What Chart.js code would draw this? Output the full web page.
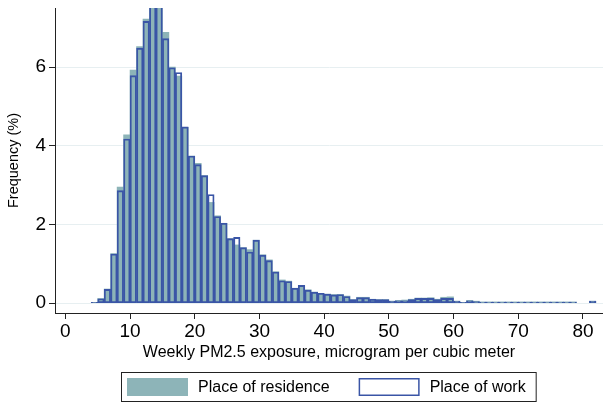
<!DOCTYPE html>
<html>
<head>
<meta charset="utf-8">
<script src="https://cdn.jsdelivr.net/npm/chart.js@4.4.1/dist/chart.umd.min.js"></script>
<style>
  html, body { margin: 0; padding: 0; background: #ffffff; }
  #wrap { width: 603px; height: 409px; }
</style>
</head>
<body>
<div id="wrap"><canvas id="chart" width="603" height="409"></canvas></div>
<script>
// Left edge of each 1-unit bin (µg/m³); bins 79 and 80 are empty
const BIN_LEFT = [
  4, 5, 6, 7, 8, 9, 10, 11, 12, 13, 14, 15, 16, 17, 18, 19, 20, 21, 22, 23,
  24, 25, 26, 27, 28, 29, 30, 31, 32, 33, 34, 35, 36, 37, 38, 39, 40, 41, 42, 43,
  44, 45, 46, 47, 48, 49, 50, 51, 52, 53, 54, 55, 56, 57, 58, 59, 60, 61, 62, 63,
  64, 65, 66, 67, 68, 69, 70, 71, 72, 73, 74, 75, 76, 77, 78, 81
];

// Frequency (%) of weekly exposure at place of residence
const RESIDENCE = [
  0.02, 0.12, 0.36, 1.26, 2.95, 4.28, 5.92, 6.52, 7.22, 7.95, 7.85, 6.88, 6.00, 5.77, 4.47, 3.74, 3.55, 3.24, 2.56, 2.22,
  2.03, 1.64, 1.48, 1.41, 1.36, 1.60, 1.23, 1.10, 0.80, 0.59, 0.56, 0.38, 0.45, 0.34, 0.28, 0.25, 0.23, 0.22, 0.22, 0.18,
  0.09, 0.15, 0.15, 0.10, 0.09, 0.09, 0.05, 0.07, 0.08, 0.10, 0.13, 0.13, 0.14, 0.10, 0.15, 0.16, 0.05, 0.02, 0.07, 0.05,
  0.03, 0.03, 0.03, 0.03, 0.03, 0.03, 0.03, 0.03, 0.03, 0.03, 0.03, 0.03, 0.03, 0.03, 0.03, 0.05
];

// Frequency (%) of weekly exposure at place of work
const WORK = [
  0.02, 0.11, 0.35, 1.25, 2.86, 4.17, 5.78, 6.48, 7.16, 7.90, 7.80, 6.72, 5.98, 5.86, 4.48, 3.74, 3.52, 3.24, 2.76, 2.20,
  2.03, 1.64, 1.67, 1.41, 1.30, 1.60, 1.22, 1.08, 0.79, 0.57, 0.55, 0.38, 0.45, 0.33, 0.28, 0.25, 0.23, 0.21, 0.22, 0.17,
  0.09, 0.14, 0.14, 0.10, 0.09, 0.09, 0.05, 0.06, 0.06, 0.09, 0.12, 0.12, 0.12, 0.09, 0.12, 0.12, 0.05, 0.02, 0.06, 0.04,
  0.03, 0.03, 0.03, 0.03, 0.03, 0.03, 0.03, 0.03, 0.03, 0.03, 0.03, 0.03, 0.03, 0.03, 0.03, 0.05
];

const X_TICKS = [0, 10, 20, 30, 40, 50, 60, 70, 80];
const Y_TICKS = [0, 2, 4, 6];

const SERIES_LABELS = ['Place of residence', 'Place of work'];
const X_TITLE = 'Weekly PM2.5 exposure, microgram per cubic meter';
const Y_TITLE = 'Frequency (%)';

const FONT = '"Liberation Sans", Arial, Helvetica, sans-serif';
const TEAL = '#8db4b8';
const BLUE = '#3a55a6';
const GRID = '#e7eff1';
const AXIS = '#222222';

// Boxed legend drawn under the axis title, centred on the plot area
const boxedLegend = {
  id: 'boxedLegend',
  afterDraw(chart) {
    const ctx = chart.ctx;
    const ca = chart.chartArea;
    const sets = chart.data.datasets;
    ctx.save();
    ctx.font = '16px ' + FONT;
    const sw = 61, sh = 18, gapText = 10, gapItem = 29, padL = 6, padR = 11;
    const t0 = ctx.measureText(sets[0].label).width;
    const t1 = ctx.measureText(sets[1].label).width;
    const total = padL + sw + gapText + t0 + gapItem + sw + gapText + t1 + padR;
    const left = Math.round((ca.left + ca.right) / 2 - total / 2);
    const top = 372, h = 30;
    const cy = top + h / 2;

    ctx.fillStyle = '#ffffff';
    ctx.fillRect(left, top, total, h);
    ctx.strokeStyle = AXIS;
    ctx.lineWidth = 1;
    ctx.strokeRect(left + 0.5, top + 0.5, total - 1, h - 1);

    let x = left + padL;
    ctx.fillStyle = sets[0].backgroundColor;
    ctx.fillRect(x, cy - sh / 2, sw, sh);
    x += sw + gapText;
    ctx.fillStyle = '#000000';
    ctx.textBaseline = 'middle';
    ctx.textAlign = 'left';
    ctx.fillText(sets[0].label, x, cy + 1);
    x += t0 + gapItem;

    ctx.fillStyle = '#ffffff';
    ctx.fillRect(x, cy - sh / 2, sw, sh);
    ctx.strokeStyle = sets[1].borderColor;
    ctx.lineWidth = 1.5;
    ctx.strokeRect(x + 0.75, cy - sh / 2 + 0.75, sw - 1.5, sh - 1.5);
    x += sw + gapText;
    ctx.fillStyle = '#000000';
    ctx.fillText(sets[1].label, x, cy + 1);
    ctx.restore();
  }
};

const toPoints = (vals) => BIN_LEFT.map((b, i) => ({ x: b + 0.5, y: vals[i] }));

new Chart(document.getElementById('chart'), {
  type: 'bar',
  data: {
    datasets: [
      {
        label: SERIES_LABELS[0],
        data: toPoints(RESIDENCE),
        backgroundColor: TEAL,
        borderColor: TEAL,
        borderWidth: 0,
        grouped: false,
        barPercentage: 1,
        categoryPercentage: 1,
        order: 2
      },
      {
        label: SERIES_LABELS[1],
        data: toPoints(WORK),
        backgroundColor: 'rgba(0,0,0,0)',
        borderColor: BLUE,
        borderWidth: 1.2,
        borderSkipped: false,
        grouped: false,
        barPercentage: 1,
        categoryPercentage: 1,
        order: 1
      }
    ]
  },
  options: {
    responsive: false,
    devicePixelRatio: 1,
    animation: false,
    layout: { padding: { top: 8, right: 0, bottom: 46, left: 0 } },
    plugins: {
      legend: { display: false },
      tooltip: { enabled: false },
      title: { display: false }
    },
    scales: {
      x: {
        type: 'linear',
        min: -1.6,
        max: 83.1,
        offset: false,
        afterBuildTicks: (s) => { s.ticks = X_TICKS.map(v => ({ value: v })); },
        afterFit: (s) => { s.height = 50; s.paddingLeft = 0; s.paddingRight = 0; },
        grid: { offset: false, drawOnChartArea: false, drawTicks: true, tickLength: 6, tickColor: AXIS },
        border: { display: true, color: AXIS, width: 1 },
        ticks: { color: '#000', font: { family: FONT, size: 19 }, padding: 1, maxRotation: 0, autoSkip: false },
        title: { display: true, text: X_TITLE, color: '#000', font: { family: FONT, size: 16 }, padding: { top: 0, bottom: 1 } }
      },
      y: {
        type: 'linear',
        min: -0.25,
        max: 7.5,
        afterBuildTicks: (s) => { s.ticks = Y_TICKS.map(v => ({ value: v })); },
        afterFit: (s) => { s.width = 55; s.paddingTop = 0; s.paddingBottom = 0; },
        grid: { color: GRID, lineWidth: 1, drawTicks: true, tickLength: 6, tickColor: AXIS },
        border: { display: true, color: AXIS, width: 1 },
        ticks: { color: '#000', font: { family: FONT, size: 19 }, padding: 3 },
        title: { display: true, text: Y_TITLE, color: '#000', font: { family: FONT, size: 14.5 }, padding: { top: 5, bottom: 0 } }
      }
    }
  },
  plugins: [boxedLegend]
});
</script>
</body>
</html>
